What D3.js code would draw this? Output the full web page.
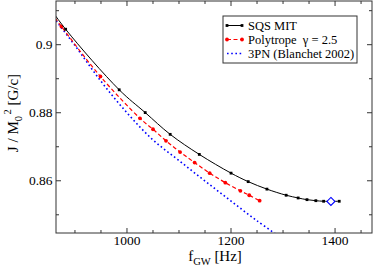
<!DOCTYPE html>
<html>
<head>
<meta charset="utf-8">
<script src="https://cdn.jsdelivr.net/npm/d3@7"></script>
<style>
  body { margin: 0; background: #fff; }
  svg { display: block; font-family: "Liberation Serif", "DejaVu Serif", serif; }
  .axis path { display: none; }
  .axis line { stroke: #333; }
  .axis text { font-size: 13.5px; fill: #000; font-family: "Liberation Serif", serif; }
</style>
</head>
<body>
<div id="chart"></div>
<script>
// SQS MIT sequence (black, solid)
var sqsFreq = [840, 883, 986, 1036, 1084, 1140, 1201, 1234, 1270, 1307, 1330, 1347, 1364, 1379, 1409]
var sqsJ = [0.9135, 0.9044, 0.8866, 0.8799, 0.8735, 0.8676, 0.8621, 0.8596, 0.8574, 0.8556, 0.8548, 0.8543, 0.8540, 0.85383, 0.85383]
// marked end point (blue diamond)
var endFreq = [1393]
var endJ = [0.85378]
// Polytrope gamma = 2.5 (red, dashed)
var polyFreq = [840, 875, 950, 1026, 1051, 1076, 1103, 1131, 1160, 1190, 1219, 1236, 1256]
var polyJ = [0.9124, 0.9052, 0.8905, 0.8782, 0.8750, 0.8716, 0.8683, 0.8652, 0.8621, 0.8593, 0.8569, 0.8556, 0.8540]
// 3PN Blanchet 2002 (blue, dotted)
var pnFreq = [850, 900, 950, 1000, 1050, 1100, 1150, 1200, 1250, 1300]
var pnJ = [0.9098, 0.8998, 0.8893, 0.8800, 0.8720, 0.8659, 0.8599, 0.8540, 0.8482, 0.8428]

var xTicks = [1000, 1200, 1400]
var xMinor = [900, 950, 1050, 1100, 1150, 1250, 1300, 1350, 1450]
var yTicks = [0.86, 0.88, 0.9]
var yTickLabels = ['0.86', '0.88', '0.9']
var yMinor = [0.85, 0.87, 0.89, 0.91]

var legendNames = ['SQS MIT', 'Polytrope', '3PN (Blanchet 2002)']

var w = 374
var h = 269
var margin = {top: 1, right: 2, bottom: 36, left: 56}
var width = w - margin.left - margin.right
var height = h - margin.top - margin.bottom

var svg = d3.select('#chart').append('svg')
    .attr('width', w)
    .attr('height', h)

var g = svg.append('g')
    .attr('transform', 'translate(' + margin.left + ',' + margin.top + ')')

var x = d3.scaleLinear().domain([864.5, 1472]).range([0, width])
var y = d3.scaleLinear().domain([0.8445, 0.9127]).range([height, 0])

function zip(fs, js) {
  return fs.map(function(f, i) {return {f: f, j: js[i]}})
}
var sqs = zip(sqsFreq, sqsJ)
var poly = zip(polyFreq, polyJ)
var pn = zip(pnFreq, pnJ)
var ends = zip(endFreq, endJ)

svg.append('clipPath').attr('id', 'clip')
  .append('rect')
    .attr('x', 0).attr('y', 0)
    .attr('width', width).attr('height', height)

// minor + major ticks, all pointing inward
function tickAxis(axis, vals, size) {
  return axis.tickValues(vals).tickSizeInner(size).tickSizeOuter(0)
}
g.append('g').attr('class', 'axis')
    .attr('transform', 'translate(0,' + height + ')')
    .call(tickAxis(d3.axisBottom(x), xMinor, -3).tickFormat(''))
g.append('g').attr('class', 'axis')
    .attr('transform', 'translate(0,' + height + ')')
    .call(tickAxis(d3.axisBottom(x), xTicks, -5).tickPadding(2.5).tickFormat(d3.format('d')))
g.append('g').attr('class', 'axis')
    .call(tickAxis(d3.axisTop(x), xMinor, -3).tickFormat(''))
g.append('g').attr('class', 'axis')
    .call(tickAxis(d3.axisTop(x), xTicks, -5).tickFormat(''))

g.append('g').attr('class', 'axis')
    .call(tickAxis(d3.axisLeft(y), yMinor, -3).tickFormat(''))
g.append('g').attr('class', 'axis')
    .call(tickAxis(d3.axisLeft(y), yTicks, -5).tickPadding(3.5)
      .tickFormat(function(d, i) {return yTickLabels[i]}))
g.append('g').attr('class', 'axis')
    .attr('transform', 'translate(' + width + ',0)')
    .call(tickAxis(d3.axisRight(y), yMinor, -3).tickFormat(''))
g.append('g').attr('class', 'axis')
    .attr('transform', 'translate(' + width + ',0)')
    .call(tickAxis(d3.axisRight(y), yTicks, -5).tickFormat(''))

var line = d3.line()
    .curve(d3.curveCatmullRom)
    .x(function(d) {return x(d.f)})
    .y(function(d) {return y(d.j)})

var plot = g.append('g').attr('clip-path', 'url(#clip)')

plot.append('path')
    .datum(pn)
    .attr('d', line)
    .attr('fill', 'none')
    .attr('stroke', '#0000ff')
    .attr('stroke-width', 1.6)
    .attr('stroke-dasharray', '1.6,2.6')

plot.append('path')
    .datum(poly)
    .attr('d', line)
    .attr('fill', 'none')
    .attr('stroke', '#ff0000')
    .attr('stroke-width', 1.2)
    .attr('stroke-dasharray', '4,2.5')

plot.selectAll('.pm')
    .data(poly)
  .enter().append('circle')
    .attr('class', 'pm')
    .attr('cx', function(d) {return x(d.f)})
    .attr('cy', function(d) {return y(d.j)})
    .attr('r', 1.9)
    .attr('fill', '#ff0000')

plot.append('path')
    .datum(sqs)
    .attr('d', line)
    .attr('fill', 'none')
    .attr('stroke', '#000')
    .attr('stroke-width', 1)

plot.selectAll('.sm')
    .data(sqs)
  .enter().append('rect')
    .attr('class', 'sm')
    .attr('x', function(d) {return x(d.f) - 1.4})
    .attr('y', function(d) {return y(d.j) - 1.4})
    .attr('width', 2.8)
    .attr('height', 2.8)
    .attr('fill', '#000')

plot.selectAll('.dm')
    .data(ends)
  .enter().append('path')
    .attr('class', 'dm')
    .attr('transform', function(d) {return 'translate(' + x(d.f) + ',' + y(d.j) + ')'})
    .attr('d', 'M0,-4L4,0L0,4L-4,0Z')
    .attr('fill', '#fff')
    .attr('stroke', '#0000ff')
    .attr('stroke-width', 1.1)

// frame
g.append('rect')
    .attr('width', width)
    .attr('height', height)
    .attr('fill', 'none')
    .attr('stroke', '#333')
    .attr('stroke-width', 1)

// axis titles
var xt = svg.append('text')
    .attr('x', 215)
    .attr('y', 261)
    .attr('text-anchor', 'middle')
    .attr('font-size', 15)
xt.append('tspan').text('f')
xt.append('tspan').attr('dy', 4).attr('font-size', 10.5).text('GW')
xt.append('tspan').attr('dy', -4).text('\u00a0[Hz]')

var yt = svg.append('text')
    .attr('transform', 'translate(17.5,113) rotate(-90)')
    .attr('text-anchor', 'middle')
    .attr('font-size', 15)
yt.append('tspan').text('J / M')
yt.append('tspan').attr('dy', 4).attr('font-size', 10.5).text('0')
yt.append('tspan').attr('dx', 1.5).attr('dy', -11).attr('font-size', 10.5).text('2')
yt.append('tspan').attr('dy', 7).text('\u00a0[G/c]')

// legend
var lg = svg.append('g')
lg.append('rect')
    .attr('x', 223).attr('y', 16)
    .attr('width', 134).attr('height', 47)
    .attr('fill', '#fff')
    .attr('stroke', '#333')
    .attr('stroke-width', 1)

var rows = [25.5, 39.5, 53.5]
lg.append('line').attr('x1', 227).attr('x2', 242).attr('y1', rows[0]).attr('y2', rows[0])
    .attr('stroke', '#000').attr('stroke-width', 1)
lg.selectAll('.lsm').data([227, 242]).enter().append('rect')
    .attr('x', function(d) {return d - 1.4}).attr('y', rows[0] - 1.4)
    .attr('width', 2.8).attr('height', 2.8).attr('fill', '#000')
lg.append('line').attr('x1', 227).attr('x2', 242).attr('y1', rows[1]).attr('y2', rows[1])
    .attr('stroke', '#ff0000').attr('stroke-width', 1.2).attr('stroke-dasharray', '4,2.5')
lg.selectAll('.lpm').data([227, 242]).enter().append('circle')
    .attr('cx', function(d) {return d}).attr('cy', rows[1])
    .attr('r', 1.9).attr('fill', '#ff0000')
lg.append('line').attr('x1', 227).attr('x2', 242).attr('y1', rows[2]).attr('y2', rows[2])
    .attr('stroke', '#0000ff').attr('stroke-width', 1.6).attr('stroke-dasharray', '1.6,2.6')

lg.selectAll('.ltx').data(legendNames).enter().append('text')
    .attr('x', 248)
    .attr('y', function(d, i) {return rows[i]})
    .attr('dy', '0.35em')
    .attr('font-size', 12.5)
    .text(function(d) {return d})
  .filter(function(d, i) {return i === 1})
  .append('tspan')
    .text('\u00a0\u00a0\u03b3 = 2.5')
</script>
</body>
</html>
